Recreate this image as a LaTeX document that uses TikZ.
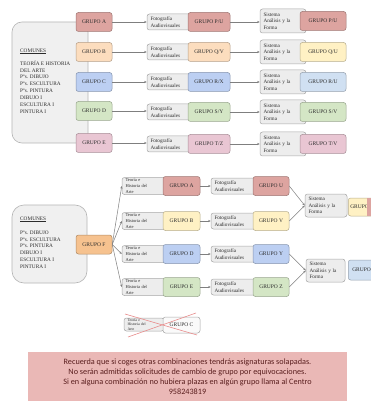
\documentclass[tikz,border=0pt]{standalone}
\usepackage{fontspec}
\setmainfont{Liberation Serif}
\newfontfamily\bannerfont{Carlito}
\usetikzlibrary{arrows.meta}
\definecolor{cA}{HTML}{DDA4A0}
\definecolor{cB}{HTML}{FCDDBE}
\definecolor{cC}{HTML}{BCCFF2}
\definecolor{cD}{HTML}{D4E6C5}
\definecolor{cE}{HTML}{E9C6D3}
\definecolor{cY}{HTML}{FFF1C4}
\definecolor{cL}{HTML}{D0E0F2}
\definecolor{cF}{HTML}{F6C28F}
\definecolor{subf}{HTML}{EDEDED}
\definecolor{subd}{HTML}{A8A8A8}
\definecolor{boxf}{HTML}{F0F0F0}
\definecolor{boxd}{HTML}{B5B5B5}
\definecolor{txtc}{HTML}{2C2C2C}
\definecolor{arrc}{HTML}{7F7F7F}
\definecolor{xred}{HTML}{E88C8C}
\definecolor{banf}{HTML}{EAB8B6}
\definecolor{bant}{HTML}{5A1E1E}
\newcommand\fgrp{\fontsize{5.5}{6.5}\selectfont}
\newcommand\fsub{\fontsize{5.2}{6.6}\selectfont}
\newcommand\fteo{\fontsize{4.5}{5.6}\selectfont}
\newcommand\fcom{\fontsize{5.3}{6.9}\selectfont}
\begin{document}
\begin{tikzpicture}[x=1pt,y=-1pt,
  grp/.style={rounded corners=2.5pt, line width=0.5pt, minimum width=36pt, minimum height=19pt, inner sep=0pt, font=\fgrp, text=txtc},
  col/.style={fill=#1, draw=#1!72!black},
  sub/.style={rounded corners=2.5pt, line width=0.5pt, fill=subf, draw=subd, text=txtc, align=left, inner xsep=3.5pt, inner ysep=0pt},
  combox/.style={fill=boxf, draw=boxd, line width=0.6pt, inner sep=0pt},
  arr/.style={draw=arrc, line width=0.5pt, -{Stealth[length=2.6pt,width=2.2pt]}},
]
\useasboundingbox[fill=white] (0,0) rectangle (370,403);

% ---------- top section ----------
\node[combox, rounded corners=10pt, minimum width=76pt, minimum height=121pt] (cb1) at (50,82.5) {};
\node[anchor=north west, align=left, font=\fcom, text=txtc, inner sep=0pt] (ct1) at (20,48.5)
 {\underline{COMUNES}\\[6pt]TEORÍA E HISTORIA\\DEL ARTE\\Pºs. DIBUJO\\Pºs. ESCULTURA\\Pºs. PINTURA\\DIBUJO I\\ESCULTURA I\\PINTURA I};

% row 1
\node[grp,col=cA] (A1) at (94,22) {GRUPO A};
\node[sub,text width=41pt,minimum height=16pt,font=\fsub] (F1) at (171,22) {Fotografía\\Audiovisuales};
\node[grp,col=cA,minimum width=42pt] (M1) at (209,22) {GRUPO P/U};
\node[sub,text width=39pt,minimum height=24pt,font=\fsub] (S1) at (283,21) {Sistema\\Análisis y la\\Forma};
\node[grp,col=cA,minimum width=46pt] (R1) at (323,21) {GRUPO P/U};
% row 2
\node[grp,col=cB] (A2) at (94,52) {GRUPO B};
\node[sub,text width=41pt,minimum height=16pt,font=\fsub] (F2) at (171,52) {Fotografía\\Audiovisuales};
\node[grp,col=cB,minimum width=42pt] (M2) at (209,52) {GRUPO Q/V};
\node[sub,text width=39pt,minimum height=24pt,font=\fsub] (S2) at (283,52) {Sistema\\Análisis y la\\Forma};
\node[grp,col=cY,minimum width=46pt] (R2) at (323,52) {GRUPO Q/U};
% row 3
\node[grp,col=cC] (A3) at (94,82) {GRUPO C};
\node[sub,text width=41pt,minimum height=16pt,font=\fsub] (F3) at (171,82) {Fotografía\\Audiovisuales};
\node[grp,col=cC,minimum width=42pt] (M3) at (209,82) {GRUPO R/X};
\node[sub,text width=39pt,minimum height=24pt,font=\fsub] (S3) at (283,82) {Sistema\\Análisis y la\\Forma};
\node[grp,col=cL,minimum width=46pt] (R3) at (323,82) {GRUPO R/U};
% row 4
\node[grp,col=cD] (A4) at (94,111) {GRUPO D};
\node[sub,text width=41pt,minimum height=16pt,font=\fsub] (F4) at (171,112) {Fotografía\\Audiovisuales};
\node[grp,col=cD,minimum width=42pt] (M4) at (209,112) {GRUPO S/Y};
\node[sub,text width=39pt,minimum height=24pt,font=\fsub] (S4) at (283,112) {Sistema\\Análisis y la\\Forma};
\node[grp,col=cD,minimum width=46pt] (R4) at (323,112) {GRUPO S/V};
% row 5
\node[grp,col=cE] (A5) at (94,143) {GRUPO E};
\node[sub,text width=41pt,minimum height=16pt,font=\fsub] (F5) at (171,144) {Fotografía\\Audiovisuales};
\node[grp,col=cE,minimum width=42pt] (M5) at (209,144) {GRUPO T/Z};
\node[sub,text width=39pt,minimum height=24pt,font=\fsub] (S5) at (283,144) {Sistema\\Análisis y la\\Forma};
\node[grp,col=cE,minimum width=46pt] (R5) at (323,144) {GRUPO T/V};

\foreach \i in {1,...,5}{
  \draw[arr] (A\i.east) -- (A\i.east -| F\i.west);
  \draw[arr] (M\i.east) -- (M\i.east -| S\i.west);
}

% ---------- bottom section ----------
\node[combox, rounded corners=12pt, minimum width=75pt, minimum height=78pt] (cb2) at (49.5,244) {};
\node[anchor=north west, align=left, font=\fcom, text=txtc, inner sep=0pt] (ct2) at (20,216.5)
 {\underline{COMUNES}\\[7pt]Pºs. DIBUJO\\Pºs. ESCULTURA\\Pºs. PINTURA\\DIBUJO I\\ESCULTURA I\\PINTURA I};
\node[grp,col=cF] (GF) at (94,244.5) {GRUPO F};

\node[sub,text width=38pt,minimum height=17pt,font=\fteo] (T1) at (144.5,186) {Teoría e\\Historia del\\Arte};
\node[grp,col=cA,minimum width=37pt] (B1) at (181.5,186) {GRUPO A};
\node[sub,text width=39pt,minimum height=16pt,font=\fsub] (P1) at (234,186) {Fotografía\\Audiovisuales};
\node[grp,col=cA] (U1) at (271,186) {GRUPO U};

\node[sub,text width=38pt,minimum height=17pt,font=\fteo] (T2) at (144.5,221) {Teoría e\\Historia del\\Arte};
\node[grp,col=cY,minimum width=37pt] (B2) at (181.5,221) {GRUPO B};
\node[sub,text width=39pt,minimum height=16pt,font=\fsub] (P2) at (234,221) {Fotografía\\Audiovisuales};
\node[grp,col=cY] (U2) at (271,221) {GRUPO V};

\node[sub,text width=38pt,minimum height=17pt,font=\fteo] (T3) at (144.5,254) {Teoría e\\Historia del\\Arte};
\node[grp,col=cC,minimum width=37pt] (B3) at (181.5,254) {GRUPO D};
\node[sub,text width=39pt,minimum height=16pt,font=\fsub] (P3) at (234,254) {Fotografía\\Audiovisuales};
\node[grp,col=cC] (U3) at (271,254) {GRUPO Y};

\node[sub,text width=38pt,minimum height=17pt,font=\fteo] (T4) at (144.5,287) {Teoría e\\Historia del\\Arte};
\node[grp,col=cD,minimum width=37pt] (B4) at (181.5,287) {GRUPO E};
\node[sub,text width=39pt,minimum height=16pt,font=\fsub] (P4) at (234,287) {Fotografía\\Audiovisuales};
\node[grp,col=cD] (U4) at (271,287) {GRUPO Z};

\foreach \i in {1,...,4}{
  \draw[arr] (GF.east) -- (T\i.west);
  \draw[arr] (B\i.east) -- (P\i.west);
}

\node[sub,text width=35pt,minimum height=23pt,font=\fsub] (SB1) at (326,205.5) {Sistema\\Análisis y la\\Forma};
\node[sub,text width=32pt,minimum height=23pt,font=\fsub] (SB2) at (325.5,270.5) {Sistema\\Análisis y la\\Forma};
\draw[arr] (U1.east) -- (SB1.west);
\draw[arr] (U2.east) -- (SB1.west);
\draw[arr] (U3.east) -- (SB2.west);
\draw[arr] (U4.east) -- (SB2.west);

\node[grp,col=cY,anchor=west,minimum height=18pt,text width=40pt,align=left,inner xsep=2pt] (X1) at (348,207) {GRUPO};
\fill[cA] (367,198.3) rectangle (X1.south east);
\node[grp,col=cL,anchor=west,minimum height=20pt,text width=40pt,align=left,inner xsep=4pt] (X2) at (348,270) {GRUPO};

% crossed out
\node[sub,text width=33pt,minimum height=13pt,font=\fontsize{3.8}{4.4}\selectfont] (TC) at (144,324.5) {Teoría e\\Historia del\\Arte};
\node[grp,fill=white!96!gray,draw=subd,minimum width=37pt,minimum height=16pt] (GC) at (181.5,325) {GRUPO C};
\draw[xred, line width=0.6pt] (125,314) -- (197,335);
\draw[xred, line width=0.6pt] (128,337) -- (196,313);

% banner
\node[fill=banf, minimum width=319pt, minimum height=49pt, inner sep=0pt, align=center,
      font=\bannerfont\fontsize{8.2}{10}\selectfont, text=bant] (ban) at (187.5,376.5)
 {Recuerda que si coges otras combinaciones tendrás asignaturas solapadas.\\
  No serán admitidas solicitudes de cambio de grupo por equivocaciones.\\
  Si en alguna combinación no hubiera plazas en algún grupo llama al Centro\\
  958243819};
\end{tikzpicture}
\end{document}
